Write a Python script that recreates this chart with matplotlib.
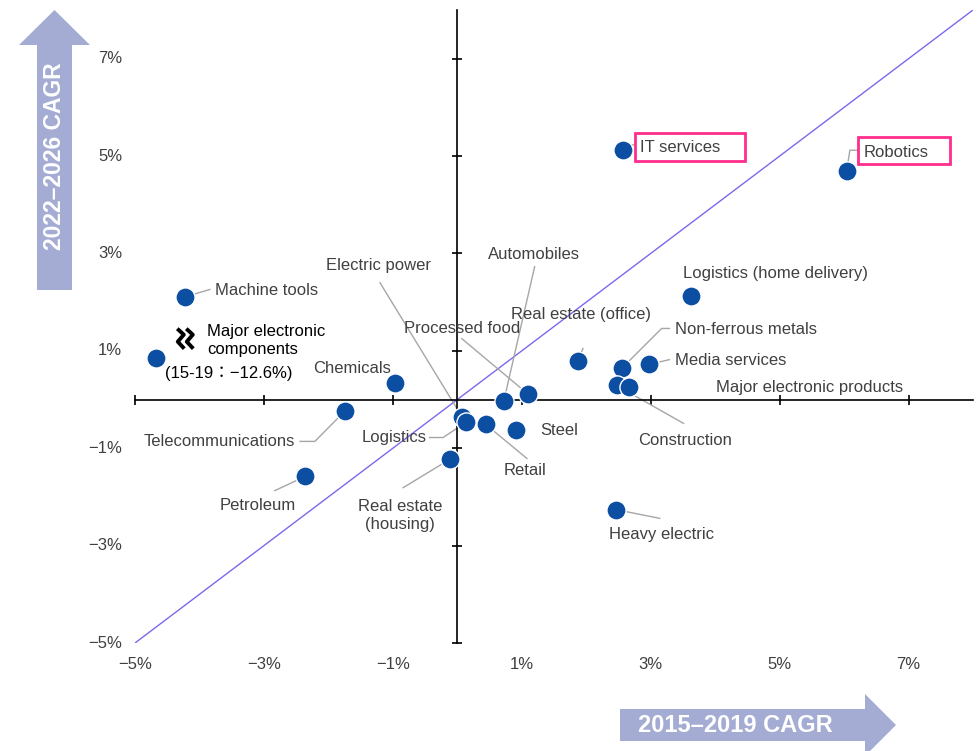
import matplotlib
matplotlib.use("Agg")
import matplotlib.pyplot as plt
from matplotlib.patches import Polygon, Rectangle
from matplotlib.transforms import ScaledTranslation

plt.rcParams['font.family'] = ['Liberation Sans', 'Noto Sans CJK JP', 'DejaVu Sans']

# ---------------- data ----------------
industries = ["Machine tools", "Major electronic components", "Chemicals", "Telecommunications",
              "Petroleum", "Real estate (housing)", "Electric power", "Logistics", "Retail",
              "Steel", "Automobiles", "Processed food", "Real estate (office)",
              "Non-ferrous metals", "Media services", "Construction",
              "Major electronic products", "Logistics (home delivery)", "IT services",
              "Robotics", "Heavy electric"]
cagr_2015_2019 = [-4.22, -4.67, -0.97, -1.74, -2.36, -0.12, 0.07, 0.13, 0.44,
                  0.91, 0.72, 1.09, 1.87, 2.55, 2.97, 2.47, 2.66, 3.62, 2.57, 6.04, 2.46]
cagr_2022_2026 = [2.11, 0.86, 0.33, -0.23, -1.58, -1.23, -0.35, -0.47, -0.51,
                  -0.62, -0.04, 0.12, 0.80, 0.64, 0.72, 0.29, 0.25, 2.13, 5.13, 4.70, -2.26]
x_ticks = [-5, -3, -1, 1, 3, 5, 7]
y_ticks = [-5, -3, -1, 1, 3, 5, 7]
tick_labels_x = ["−5%", "−3%", "−1%", "1%", "3%", "5%", "7%"]
tick_labels_y = ["−5%", "−3%", "−1%", "1%", "3%", "5%", "7%"]
diag = [-5, 8]

# ---------------- layout ----------------
FS = 12
fig = plt.figure(figsize=(9.78, 7.51), dpi=100)
ax = fig.add_axes([135 / 978, 1 - 643 / 751, 838 / 978, 633 / 751])
ax.set_xlim(-5, 8)
ax.set_ylim(-5, 8)
for s in ["top", "right"]:
    ax.spines[s].set_visible(False)
ax.spines["left"].set_position(("data", 0))
ax.spines["bottom"].set_position(("data", 0))
for s in ["left", "bottom"]:
    ax.spines[s].set_linewidth(1.2)
    ax.spines[s].set_color("black")
ax.set_xticks(x_ticks)
ax.set_yticks(y_ticks)
ax.set_xticklabels([])
ax.set_yticklabels([])
ax.tick_params(direction="inout", length=7.5, width=1.2, color="black")

txtc = "#404040"
for v, lab in zip(x_ticks, tick_labels_x):
    ax.text(v, -5.45, lab, ha="center", va="center", fontsize=FS, color=txtc)
for v, lab in zip(y_ticks, tick_labels_y):
    ax.text(-5.2, v, lab, ha="right", va="center", fontsize=FS, color=txtc)

ax.plot(diag, diag, color="#7B68EE", lw=1.0, zorder=1)

# label layout: text pos, ha, leader path
layout = {
    "Machine tools": ((-3.76, 2.24), "left", [(-3.84, 2.26)]),
    "Chemicals": ((-1.03, 0.64), "right", [(-0.98, 0.50)]),
    "Telecommunications": ((-2.52, -0.86), "right", [(-2.21, -0.86), (-2.44, -0.86)]),
    "Petroleum": ((-3.09, -2.17), "center", [(-2.83, -1.87)]),
    "Real estate (housing)": ((-0.89, -2.38), "center", [(-0.84, -1.81)]),
    "Electric power": ((-1.23, 2.75), "center", [(-1.20, 2.40)]),
    "Logistics": ((-0.47, -0.78), "right", [(-0.22, -0.78), (-0.43, -0.78)]),
    "Retail": ((1.05, -1.46), "center", [(1.08, -1.21)]),
    "Steel": ((1.28, -0.64), "left", []),
    "Automobiles": ((1.19, 2.97), "center", [(1.20, 2.73)]),
    "Processed food": ((0.07, 1.46), "center", [(0.07, 1.25)]),
    "Real estate (office)": ((1.92, 1.74), "center", [(1.95, 1.05)]),
    "Non-ferrous metals": ((3.37, 1.44), "left", [(3.17, 1.46), (3.29, 1.46)]),
    "Media services": ((3.37, 0.80), "left", [(3.29, 0.82)]),
    "Construction": ((3.53, -0.84), "center", [(3.51, -0.49)]),
    "Major electronic products": ((5.47, 0.25), "center", []),
    "Logistics (home delivery)": ((3.50, 2.58), "left", []),
    "IT services": ((2.83, 5.17), "left", [(2.64, 5.23), (2.75, 5.23)]),
    "Robotics": ((6.30, 5.07), "left", [(6.09, 5.12), (6.21, 5.12)]),
    "Heavy electric": ((3.17, -2.77), "center", [(3.14, -2.44)]),
}
display_text = {"Real estate (housing)": "Real estate\n(housing)"}

for name, x, y in zip(industries, cagr_2015_2019, cagr_2022_2026):
    if name not in layout:
        continue
    (tx, ty), ha, path = layout[name]
    if path:
        xs = [x] + [p[0] for p in path]
        ys = [y] + [p[1] for p in path]
        ax.plot(xs, ys, color="#a6a6a6", lw=1.0, zorder=2)
    ax.text(tx, ty, display_text.get(name, name), ha=ha, va="center", fontsize=FS,
            color=txtc, linespacing=1.2, zorder=4)

ax.scatter(cagr_2015_2019, cagr_2022_2026, s=190, color="#0B4EA2", edgecolor="white",
           linewidth=1.0, zorder=3, clip_on=False)

# Major electronic components (axis break)
ax.text(-3.88, 1.21, "Major electronic\ncomponents", ha="left", va="center", fontsize=FS,
        color="black", linespacing=1.2)
ax.text(-4.53, 0.53, "(15-19：−12.6%)", ha="left", va="center", fontsize=FS, color="black")
bt = fig.dpi_scale_trans + ScaledTranslation(-4.22, 1.25, ax.transData)
for off in (-0.045, 0.045):
    zx = [off - 0.035, off + 0.03, off - 0.03, off + 0.035]
    zy = [0.1, 0.04, -0.03, -0.1]
    ax.plot(zx, zy, color="black", lw=2.8, transform=bt, solid_joinstyle="round",
            solid_capstyle="butt", clip_on=False)

# highlight boxes
pink = "#FF2D8C"
ax.add_patch(Rectangle((2.75, 4.90), 1.72, 0.57, fill=False, ec=pink, lw=2.0, zorder=5))
ax.add_patch(Rectangle((6.21, 4.84), 1.44, 0.55, fill=False, ec=pink, lw=2.0, zorder=5,
                       clip_on=False))

# big arrows (display pixels, origin bottom-left)
H = 751
acol = "#A4ACD4"
yarrow = [(37, H - 290), (37, H - 45), (19, H - 45), (54.5, H - 10), (90, H - 45),
          (72, H - 45), (72, H - 290)]
fig.patches.append(Polygon(yarrow, closed=True, transform=None, fc=acol, ec="none"))
fig.text(55 / 978, 1 - 156 / 751, "2022–2026 CAGR", rotation=90, ha="center", va="center",
         fontsize=16.5, fontweight="bold", color="white")
xarrow = [(620, H - 709), (865, H - 709), (865, H - 694), (896, H - 725), (865, H - 756),
          (865, H - 741), (620, H - 741)]
fig.patches.append(Polygon(xarrow, closed=True, transform=None, fc=acol, ec="none"))
fig.text(735 / 978, 1 - 726 / 751, "2015–2019 CAGR", ha="center", va="center",
         fontsize=17, fontweight="bold", color="white")

fig.savefig("out.png", dpi=100)
